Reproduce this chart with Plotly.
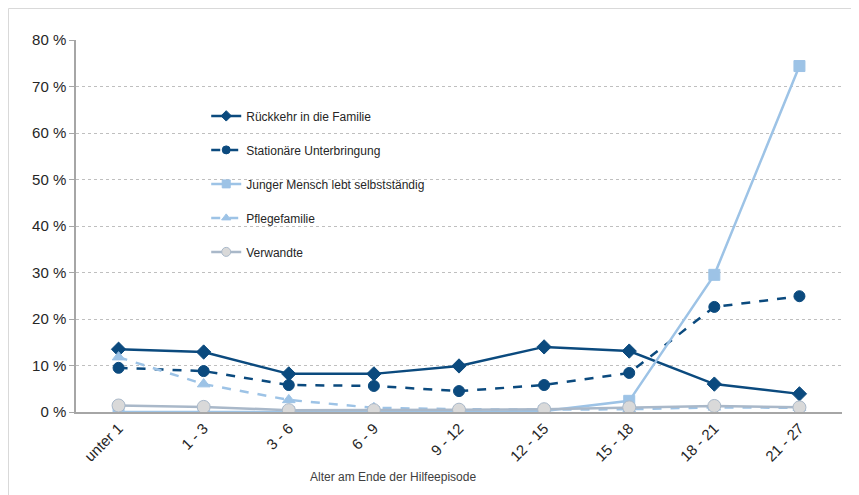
import plotly.graph_objects as go

categories = ["unter 1", "1 - 3", "3 - 6", "6 - 9", "9 - 12", "12 - 15", "15 - 18", "18 - 21", "21 - 27"]
rueckkehr = [13.5, 12.9, 8.2, 8.2, 9.9, 14.0, 13.1, 6.0, 3.9]
stationaer = [9.5, 8.8, 5.8, 5.6, 4.5, 5.8, 8.4, 22.6, 24.9]
selbststaendig = [0.0, 0.0, 0.0, 0.0, 0.0, 0.2, 2.4, 29.5, 74.4]
pflegefamilie = [11.8, 6.0, 2.6, 0.9, 0.6, 0.5, 0.6, 1.0, 0.9]
verwandte = [1.4, 1.1, 0.4, 0.4, 0.5, 0.6, 1.0, 1.3, 1.0]
y_ticks = [0, 10, 20, 30, 40, 50, 60, 70, 80]
x_title = "Alter am Ende der Hilfeepisode"

DARK = "#0B4A7E"
LIGHT = "#9DC3E6"
GREY = "#A9B8C9"
FONT = "Liberation Sans"

W, H = 851, 487
ML, MR, MT, MB = 68, 17, 32, 83
PW, PH = W - ML - MR, H - MT - MB

fig = go.Figure()
series = [
    ("Rückkehr in die Familie", rueckkehr, DARK, "solid", "diamond", 11, DARK, DARK),
    ("Stationäre Unterbringung", stationaer, DARK, "dash", "circle", 11, DARK, DARK),
    ("Junger Mensch lebt selbstständig", selbststaendig, LIGHT, "solid", "square", 11, LIGHT, LIGHT),
    ("Pflegefamilie", pflegefamilie, LIGHT, "dash", "triangle-up", 11, LIGHT, LIGHT),
    ("Verwandte", verwandte, GREY, "solid", "circle", 13, "#D9D9D9", GREY),
]
for i, (name, vals, col, dash, sym, size, mfill, mline) in enumerate(series):
    fig.add_trace(go.Scatter(
        x=categories, y=vals, name=name, mode="lines+markers",
        line=dict(color=col, width=2.5, dash=dash),
        marker=dict(symbol=sym, size=size, color=mfill, line=dict(color=mline, width=1)),
        legendgroup=f"g{i}", showlegend=False,
    ))
    # legend-only entry with smaller marker
    fig.add_trace(go.Scatter(
        x=[categories[0]], y=[None], name=name, mode="lines+markers",
        line=dict(color=col, width=2.5, dash=dash),
        marker=dict(symbol=sym, size=8 if sym != "circle" or i == 1 else 9, color=mfill,
                    line=dict(color=mline, width=1)),
        legendgroup=f"g{i}", showlegend=True, hoverinfo="skip",
    ))

fig.update_layout(
    width=W, height=H,
    margin=dict(l=ML, r=MR, t=MT, b=MB, autoexpand=False),
    paper_bgcolor="white", plot_bgcolor="white",
    font=dict(family=FONT, size=14, color="#404040"),
    showlegend=True,
    legend=dict(x=0.17, y=0.835, xanchor="left", yanchor="top",
                bgcolor="rgba(0,0,0,0)", font=dict(size=12, color="#262626"),
                tracegroupgap=15, itemwidth=30),
    shapes=[dict(type="rect", xref="paper", yref="paper",
                 x0=-(ML - 0.5) / PW, x1=(W - ML + 2) / PW,
                 y0=-(MB + 2) / PH, y1=(PH + MT - 0.5) / PH,
                 line=dict(color="#D9D9D9", width=1), layer="below")],
    annotations=[dict(text=x_title, xref="paper", yref="paper",
                      x=(385 - ML) / PW, y=-65 / PH, xanchor="center", yanchor="middle",
                      showarrow=False, font=dict(size=12, color="#404040"))],
)
fig.update_xaxes(
    type="category", range=[-0.5, 8.5], tickangle=-45, automargin=False,
    showline=True, linecolor="#A6A6A6", linewidth=1.5,
    ticks="", showgrid=False, tickfont=dict(size=15, color="#262626"),
)
fig.update_yaxes(
    range=[0, 80], tickvals=y_ticks, ticktext=[f"{v} %" for v in y_ticks], automargin=False,
    showline=True, linecolor="#A6A6A6", linewidth=1.5,
    showgrid=True, gridcolor="#BFBFBF", griddash="dot", gridwidth=1,
    zeroline=False, ticks="outside", ticklen=5, tickcolor="#A6A6A6",
    tickfont=dict(size=15, color="#262626"),
)

fig.write_html("out.html")
